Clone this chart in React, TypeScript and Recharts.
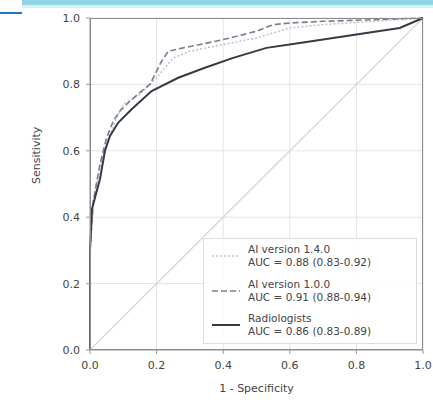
import React from "react";
import { LineChart, Line, XAxis, YAxis, CartesianGrid } from "recharts";

const axisTicks = [0, 0.2, 0.4, 0.6, 0.8, 1.0];

const chanceLine = [
  { fpr: 0, tpr: 0 },
  { fpr: 1, tpr: 1 },
];

// AI version 1.4.0
const aiV140 = [
  { fpr: 0, tpr: 0 },
  { fpr: 0, tpr: 0.3 },
  { fpr: 0.01, tpr: 0.44 },
  { fpr: 0.03, tpr: 0.55 },
  { fpr: 0.05, tpr: 0.62 },
  { fpr: 0.08, tpr: 0.7 },
  { fpr: 0.1, tpr: 0.74 },
  { fpr: 0.15, tpr: 0.77 },
  { fpr: 0.2, tpr: 0.82 },
  { fpr: 0.25, tpr: 0.88 },
  { fpr: 0.3, tpr: 0.9 },
  { fpr: 0.4, tpr: 0.92 },
  { fpr: 0.5, tpr: 0.94 },
  { fpr: 0.6, tpr: 0.97 },
  { fpr: 0.7, tpr: 0.98 },
  { fpr: 0.85, tpr: 0.99 },
  { fpr: 1, tpr: 1 },
];

// AI version 1.0.0
const aiV100 = [
  { fpr: 0, tpr: 0 },
  { fpr: 0, tpr: 0.3 },
  { fpr: 0.01, tpr: 0.45 },
  { fpr: 0.03, tpr: 0.56 },
  { fpr: 0.05, tpr: 0.64 },
  { fpr: 0.07, tpr: 0.69 },
  { fpr: 0.09, tpr: 0.72 },
  { fpr: 0.12, tpr: 0.75 },
  { fpr: 0.155, tpr: 0.78 },
  { fpr: 0.18, tpr: 0.8 },
  { fpr: 0.195, tpr: 0.83 },
  { fpr: 0.215, tpr: 0.87 },
  { fpr: 0.235, tpr: 0.9 },
  { fpr: 0.28, tpr: 0.91 },
  { fpr: 0.33, tpr: 0.92 },
  { fpr: 0.4, tpr: 0.935 },
  { fpr: 0.46, tpr: 0.95 },
  { fpr: 0.5, tpr: 0.96 },
  { fpr: 0.55, tpr: 0.98 },
  { fpr: 0.6, tpr: 0.985 },
  { fpr: 0.7, tpr: 0.99 },
  { fpr: 1, tpr: 1 },
];

const radiologists = [
  { fpr: 0, tpr: 0 },
  { fpr: 0, tpr: 0.3 },
  { fpr: 0.006, tpr: 0.425 },
  { fpr: 0.03, tpr: 0.515 },
  { fpr: 0.045, tpr: 0.6 },
  { fpr: 0.06, tpr: 0.645 },
  { fpr: 0.085, tpr: 0.685 },
  { fpr: 0.125, tpr: 0.725 },
  { fpr: 0.185, tpr: 0.78 },
  { fpr: 0.265, tpr: 0.82 },
  { fpr: 0.345, tpr: 0.85 },
  { fpr: 0.43, tpr: 0.88 },
  { fpr: 0.53, tpr: 0.91 },
  { fpr: 0.63, tpr: 0.925 },
  { fpr: 0.73, tpr: 0.94 },
  { fpr: 0.83, tpr: 0.955 },
  { fpr: 0.93, tpr: 0.97 },
  { fpr: 1, tpr: 1 },
];

const legendItems = [
  { name: "AI version 1.4.0", auc: "AUC = 0.88 (0.83-0.92)", color: "#b9c3cf", dash: "2 2", width: 1.5 },
  { name: "AI version 1.0.0", auc: "AUC = 0.91 (0.88-0.94)", color: "#767f8b", dash: "6 3", width: 1.6 },
  { name: "Radiologists", auc: "AUC = 0.86 (0.83-0.89)", color: "#353a45", dash: undefined, width: 2 },
];

const font = "DejaVu Sans, sans-serif";
const fmt = (v: number) => v.toFixed(1);

export default function App() {
  return (
    <div style={{ position: "absolute", left: 0, top: 0, width: 433, height: 400, background: "#fff", fontFamily: font }}>
      <div style={{ position: "absolute", left: 22, top: 0, width: 411, height: 5, background: "#8fd6e2" }} />
      <div style={{ position: "absolute", left: 22, top: 5, width: 411, height: 3, background: "#d6f1f5" }} />
      <div style={{ position: "absolute", left: 0, top: 12, width: 22, height: 2, background: "#1f78c8" }} />
      <LineChart width={433} height={400} margin={{ top: 18, right: 10, bottom: 0, left: 0 }}>
        <CartesianGrid stroke="#e4e4e4" strokeWidth={1} />
        <XAxis
          type="number"
          dataKey="fpr"
          domain={[0, 1]}
          ticks={axisTicks}
          tickFormatter={fmt}
          height={50}
          stroke="#999"
          tick={{ fill: "#444", fontSize: 11, fontFamily: font }}
          tickSize={4}
          tickMargin={7}
          label={{ value: "1 - Specificity", position: "insideBottom", offset: 8, fill: "#444", fontSize: 11, fontFamily: font }}
        />
        <YAxis
          type="number"
          dataKey="tpr"
          domain={[0, 1]}
          ticks={axisTicks}
          tickFormatter={fmt}
          width={90}
          stroke="#999"
          tick={{ fill: "#444", fontSize: 11, fontFamily: font }}
          tickSize={4}
          tickMargin={6}
          label={{ value: "Sensitivity", angle: -90, position: "insideLeft", offset: 36, fill: "#444", fontSize: 11, fontFamily: font }}
        />
        <Line data={chanceLine} dataKey="tpr" stroke="#d6d6d6" strokeWidth={1.2} dot={false} isAnimationActive={false} />
        {[aiV140, aiV100, radiologists].map((d, i) => (
          <Line
            key={i}
            data={d}
            dataKey="tpr"
            type="linear"
            stroke={legendItems[i].color}
            strokeWidth={legendItems[i].width}
            strokeDasharray={legendItems[i].dash}
            dot={false}
            isAnimationActive={false}
          />
        ))}
      </LineChart>
      <div style={{ position: "absolute", left: 90, top: 18, width: 333, height: 332, border: "1.5px solid #8c8c8c", boxSizing: "border-box", pointerEvents: "none" }} />
      <div
        style={{
          position: "absolute",
          left: 203,
          top: 238,
          width: 214,
          height: 106,
          border: "1px solid #dcdcdc",
          background: "rgba(255,255,255,0.85)",
          boxSizing: "border-box",
          fontSize: 10.5,
          color: "#444",
          lineHeight: "13px",
        }}
      >
        {legendItems.map((it, i) => (
          <div key={i} style={{ position: "absolute", left: 0, top: 4 + i * 34.5, width: 212 }}>
            <svg width={36} height={26} style={{ position: "absolute", left: 4, top: 0 }}>
              <line x1={4} y1={13} x2={32} y2={13} stroke={it.color} strokeWidth={it.width} strokeDasharray={it.dash} />
            </svg>
            <div style={{ position: "absolute", left: 44, top: 0, whiteSpace: "nowrap" }}>
              {it.name}
              <br />
              {it.auc}
            </div>
          </div>
        ))}
      </div>
    </div>
  );
}
